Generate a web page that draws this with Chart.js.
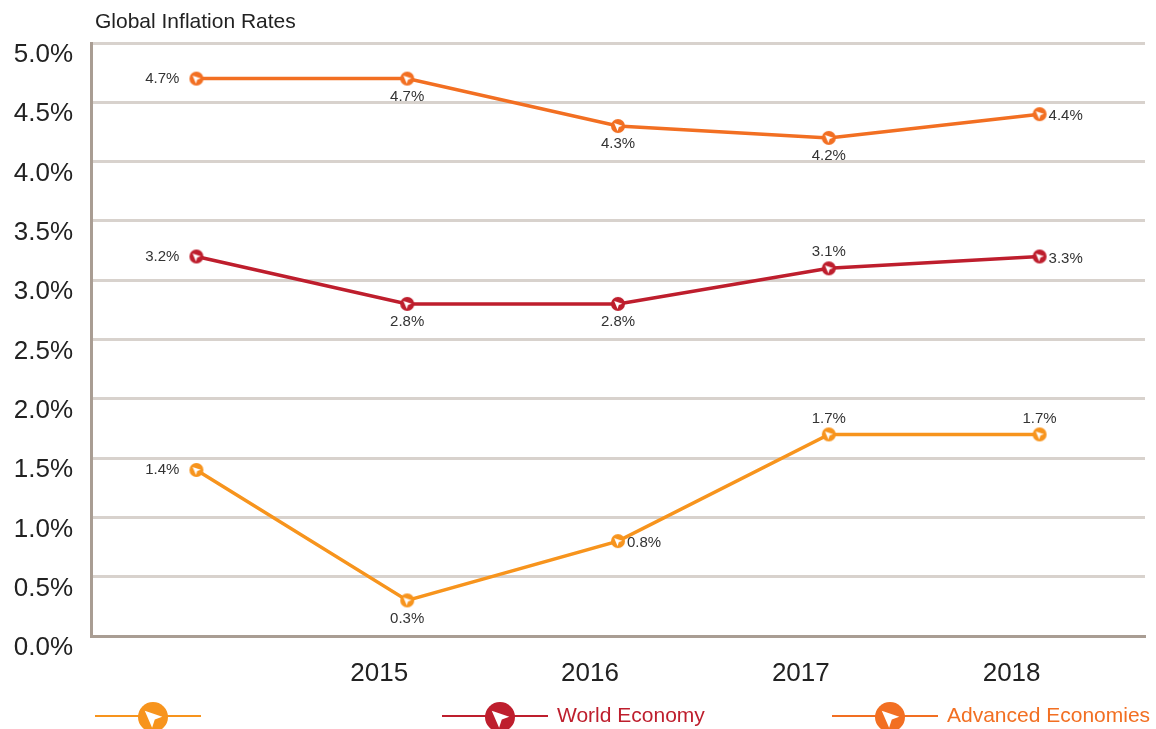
<!DOCTYPE html>
<html>
<head>
<meta charset="utf-8">
<script src="https://cdn.jsdelivr.net/npm/chart.js@4"></script>
<style>
  html, body { margin: 0; padding: 0; background: #fff; }
  #wrap { width: 1156px; height: 729px; }
</style>
</head>
<body>
<div id="wrap"><canvas id="inflationChart" width="1156" height="729"></canvas></div>
<script>
// categories (first one has no year label)
const years = ['', '2015', '2016', '2017', '2018'];
const yTickValues = [0, 0.5, 1, 1.5, 2, 2.5, 3, 3.5, 4, 4.5, 5];

// series values (percent)
const lowerValues = [1.4, 0.3, 0.8, 1.7, 1.7];
const worldValues = [3.2, 2.8, 2.8, 3.1, 3.2];
const upperValues = [4.7, 4.7, 4.3, 4.2, 4.4];

// value labels as printed on the chart
const lowerLabels = ['1.4%', '0.3%', '0.8%', '1.7%', '1.7%'];
const worldLabels = ['3.2%', '2.8%', '2.8%', '3.1%', '3.3%'];
const upperLabels = ['4.7%', '4.7%', '4.3%', '4.2%', '4.4%'];

const seriesNames = ['', 'World Economy', 'Advanced Economies'];

const FONT = '"Liberation Sans", Arial, Helvetica, sans-serif';
const COLORS = ['#f7941d', '#be1e2d', '#f26f22'];

// draw a filled circle with a white arrow inside
function drawMarker(ctx, cx, cy, r, color) {
    ctx.save();
    ctx.fillStyle = color;
    ctx.beginPath();
    ctx.arc(cx, cy, r, 0, Math.PI * 2);
    ctx.fill();
    ctx.fillStyle = '#fff';
    ctx.beginPath();
    ctx.moveTo(cx - 0.55 * r, cy - 0.42 * r);
    ctx.lineTo(cx + 0.62 * r, cy - 0.02 * r);
    ctx.lineTo(cx + 0.12 * r, cy + 0.16 * r);
    ctx.lineTo(cx - 0.06 * r, cy + 0.72 * r);
    ctx.closePath();
    ctx.fill();
    ctx.restore();
}

function makeMarker(color, r) {
    const c = document.createElement('canvas');
    c.width = r * 2 + 2;
    c.height = r * 2 + 2;
    drawMarker(c.getContext('2d'), r + 1, r + 1, r, color);
    return c;
}

// where each value label sits relative to its point
const labelPlacement = [
    ['left', 'below', 'right', 'above', 'above'],
    ['left', 'below', 'below', 'above', 'right'],
    ['left', 'below', 'below', 'below', 'right']
];
const labelTexts = [lowerLabels, worldLabels, upperLabels];

const valueLabels = {
    id: 'valueLabels',
    afterDatasetsDraw(chart) {
        const ctx = chart.ctx;
        ctx.save();
        ctx.font = '15px ' + FONT;
        ctx.fillStyle = '#333';
        ctx.textBaseline = 'middle';
        chart.data.datasets.forEach((ds, di) => {
            const meta = chart.getDatasetMeta(di);
            meta.data.forEach((pt, i) => {
                const pos = labelPlacement[di][i];
                const txt = labelTexts[di][i];
                let x = pt.x, y = pt.y;
                if (pos === 'left') { ctx.textAlign = 'right'; x -= 17; }
                else if (pos === 'right') { ctx.textAlign = 'left'; x += 9; y += 2; }
                else if (pos === 'below') { ctx.textAlign = 'center'; y += 18; }
                else { ctx.textAlign = 'center'; y -= 16; }
                ctx.fillText(txt, x, y);
            });
        });
        ctx.restore();
    }
};

// title and bottom legend
const legendStarts = [95, 442, 832];
const decorations = {
    id: 'decorations',
    afterDraw(chart) {
        const ctx = chart.ctx;
        ctx.save();
        ctx.font = '21px ' + FONT;
        ctx.fillStyle = '#222';
        ctx.textAlign = 'left';
        ctx.textBaseline = 'middle';
        ctx.fillText('Global Inflation Rates', 95, 22);

        const ly = 716;
        legendStarts.forEach((x0, i) => {
            ctx.strokeStyle = COLORS[i];
            ctx.lineWidth = 2;
            ctx.beginPath();
            ctx.moveTo(x0, ly);
            ctx.lineTo(x0 + 106, ly);
            ctx.stroke();
            drawMarker(ctx, x0 + 58, ly + 1, 15, COLORS[i]);
            if (seriesNames[i]) {
                ctx.font = '21px ' + FONT;
                ctx.fillStyle = COLORS[i];
                ctx.fillText(seriesNames[i], x0 + 115, ly);
            }
        });
        ctx.restore();
    }
};

const values = [lowerValues, worldValues, upperValues];
const datasets = values.map((v, i) => ({
    label: seriesNames[i],
    data: v,
    borderColor: COLORS[i],
    backgroundColor: COLORS[i],
    borderWidth: 3.5,
    tension: 0,
    pointStyle: makeMarker(COLORS[i], 7),
    pointRadius: 7,
    pointHoverRadius: 7
}));

const ctx = document.getElementById('inflationChart').getContext('2d');
const inflationChart = new Chart(ctx, {
    type: 'line',
    data: { labels: years, datasets: datasets },
    options: {
        responsive: false,
        animation: false,
        layout: { padding: { top: 43, left: 0, right: 11, bottom: 0 } },
        plugins: {
            legend: { display: false },
            tooltip: { enabled: false },
            title: { display: false }
        },
        scales: {
            x: {
                offset: true,
                grid: { display: false, drawTicks: false },
                border: { display: true, color: '#a99d93', width: 3 },
                ticks: {
                    font: { family: FONT, size: 26 },
                    color: '#222',
                    padding: 22,
                    labelOffset: -28,
                    maxRotation: 0
                },
                afterFit(scale) { scale.height = 93; }
            },
            y: {
                min: 0,
                max: 5,
                afterBuildTicks(scale) {
                    scale.ticks = yTickValues.map(v => ({ value: v }));
                },
                grid: { color: '#d8d2cd', lineWidth: 3, drawTicks: false },
                border: { display: true, color: '#a99d93', width: 3 },
                ticks: {
                    font: { family: FONT, size: 26 },
                    color: '#222',
                    padding: 18,
                    labelOffset: 12,
                    callback: v => v.toFixed(1) + '%'
                },
                afterFit(scale) { scale.width = 91; }
            }
        }
    },
    plugins: [valueLabels, decorations]
});
</script>
</body>
</html>
